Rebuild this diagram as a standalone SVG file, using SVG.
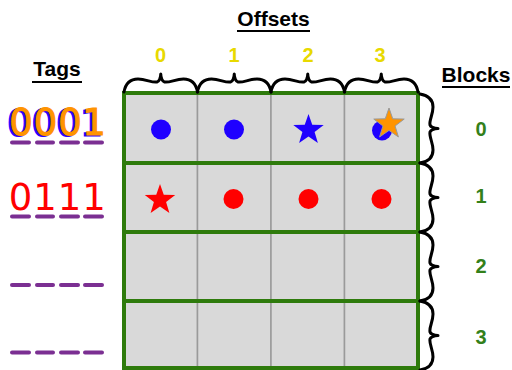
<svg xmlns="http://www.w3.org/2000/svg" width="512" height="370" viewBox="0 0 512 370">
<style>
.hd{font-family:"Liberation Sans",Arial,sans-serif;font-weight:bold;font-size:21px;fill:#000;text-anchor:middle}
.off{font-family:"Liberation Sans",Arial,sans-serif;font-weight:bold;font-size:20px;fill:#e8d900;text-anchor:middle}
.blk{font-family:"Liberation Sans",Arial,sans-serif;font-weight:bold;font-size:20px;fill:#33801a;text-anchor:middle}
.tag{font-family:"DejaVu Sans","Liberation Sans",sans-serif;font-size:37px;text-anchor:middle}
.ul{stroke:#000;stroke-width:2}
.dash{stroke:#7b2f92;stroke-width:4;stroke-linecap:round}
.cell{fill:#d9d9d9;stroke:#9a9a9a;stroke-width:1.5}
.row{fill:none;stroke:#2e7b0c;stroke-width:4}
.brace{fill:none;stroke:#000;stroke-width:3;stroke-linejoin:round;stroke-linecap:round}
</style>
<defs>
<path id="hb" class="brace" d="M0,19 C2,8 8,6 14,6 C22,6 28,10 33,9 C35,8.5 36.75,5 36.75,1 C36.75,5 38.5,8.5 40.5,9 C45.5,10 51.5,6 59.5,6 C65.5,6 71.5,8 73.5,19"/>
<path id="vb" class="brace" d="M0,0 C11,1.9 13,7.5 13,13.1 C13,20.7 9,26.3 10,31 C10.5,32.9 14,34.5 18,34.5 C14,34.5 10.5,36.1 10,38 C9,42.7 13,48.4 13,55.9 C13,61.5 11,67.1 0,69"/>
<polygon id="star5" points="0,-16 3.76,-5.18 15.22,-4.94 6.09,1.98 9.40,12.94 0,6.4 -9.40,12.94 -6.09,1.98 -15.22,-4.94 -3.76,-5.18"/>
</defs>

<g id="headers">
<text class="hd" x="273.5" y="26">Offsets</text>
<line class="ul" x1="237" y1="31" x2="310" y2="31"/>
<text class="hd" x="57" y="76">Tags</text>
<line class="ul" x1="32" y1="82" x2="82" y2="82"/>
<text class="hd" x="476" y="82">Blocks</text>
<line class="ul" x1="442" y1="87" x2="510" y2="87"/>
</g>

<g id="offset-labels">
<text class="off" x="160.5" y="62">0</text>
<text class="off" x="234" y="62">1</text>
<text class="off" x="308" y="62">2</text>
<text class="off" x="380" y="62">3</text>
</g>

<g id="block-labels">
<text class="blk" x="481" y="136">0</text>
<text class="blk" x="481" y="203">1</text>
<text class="blk" x="481" y="273">2</text>
<text class="blk" x="481" y="344">3</text>
</g>

<g id="cache-grid">
<g id="row0">
<rect class="cell" x="124" y="93" width="73.5" height="70"/>
<rect class="cell" x="197.5" y="93" width="73.5" height="70"/>
<rect class="cell" x="271" y="93" width="73.5" height="70"/>
<rect class="cell" x="344.5" y="93" width="73.5" height="70"/>
<rect class="row" x="124" y="93" width="294" height="70"/>
</g>
<g id="row1">
<rect class="cell" x="124" y="163" width="73.5" height="69"/>
<rect class="cell" x="197.5" y="163" width="73.5" height="69"/>
<rect class="cell" x="271" y="163" width="73.5" height="69"/>
<rect class="cell" x="344.5" y="163" width="73.5" height="69"/>
<rect class="row" x="124" y="163" width="294" height="69"/>
</g>
<g id="row2">
<rect class="cell" x="124" y="232" width="73.5" height="69"/>
<rect class="cell" x="197.5" y="232" width="73.5" height="69"/>
<rect class="cell" x="271" y="232" width="73.5" height="69"/>
<rect class="cell" x="344.5" y="232" width="73.5" height="69"/>
<rect class="row" x="124" y="232" width="294" height="69"/>
</g>
<g id="row3">
<rect class="cell" x="124" y="301" width="73.5" height="67"/>
<rect class="cell" x="197.5" y="301" width="73.5" height="67"/>
<rect class="cell" x="271" y="301" width="73.5" height="67"/>
<rect class="cell" x="344.5" y="301" width="73.5" height="67"/>
<rect class="row" x="124" y="301" width="294" height="67"/>
</g>
</g>

<g id="braces">
<use href="#hb" x="124" y="73"/>
<use href="#hb" x="197.5" y="73"/>
<use href="#hb" x="271" y="73"/>
<use href="#hb" x="344.5" y="73"/>
<use href="#vb" x="420" y="94"/>
<use href="#vb" x="420" y="163"/>
<use href="#vb" x="420" y="232"/>
<use href="#vb" x="420" y="301"/>
</g>

<g id="block0-data">
<circle cx="161" cy="129.5" r="10" fill="#1f00ff"/>
<circle cx="234" cy="129.5" r="10" fill="#1f00ff"/>
<use href="#star5" x="308.5" y="130" fill="#1f00ff"/>
<circle cx="382" cy="130.5" r="10" fill="#1f00ff"/>
<use href="#star5" x="389" y="124" fill="#ff9400" stroke="#999" stroke-width="1"/>
</g>

<g id="block1-data">
<use href="#star5" x="160" y="200" fill="#ff0000"/>
<circle cx="233.5" cy="199" r="10" fill="#ff0000"/>
<circle cx="308.5" cy="199" r="10" fill="#ff0000"/>
<circle cx="381.5" cy="199" r="10" fill="#ff0000"/>
</g>

<g id="tags">
<g id="tag0">
<text class="tag" x="18.5 43 67.5 91.5" y="136" fill="#2a00ff" stroke="#2a00ff" stroke-width="1.2">0001</text>
<text class="tag" x="21 45.5 70 94" y="134.5" fill="#ff9400" stroke="#ff9400" stroke-width="1.2">0001</text>
<line class="dash" x1="12" y1="142.5" x2="29" y2="142.5"/>
<line class="dash" x1="37" y1="142.5" x2="53" y2="142.5"/>
<line class="dash" x1="61" y1="142.5" x2="78" y2="142.5"/>
<line class="dash" x1="85" y1="142.5" x2="102" y2="142.5"/>
</g>
<g id="tag1">
<text class="tag" x="20.5 45 69.5 94" y="210" fill="#ff0000">0111</text>
<line class="dash" x1="12" y1="216.5" x2="29" y2="216.5"/>
<line class="dash" x1="37" y1="216.5" x2="53" y2="216.5"/>
<line class="dash" x1="61" y1="216.5" x2="78" y2="216.5"/>
<line class="dash" x1="85" y1="216.5" x2="102" y2="216.5"/>
</g>
<g id="tag2">
<line class="dash" x1="12" y1="285" x2="29" y2="285"/>
<line class="dash" x1="37" y1="285" x2="53" y2="285"/>
<line class="dash" x1="61" y1="285" x2="78" y2="285"/>
<line class="dash" x1="85" y1="285" x2="102" y2="285"/>
</g>
<g id="tag3">
<line class="dash" x1="12" y1="352.5" x2="29" y2="352.5"/>
<line class="dash" x1="37" y1="352.5" x2="53" y2="352.5"/>
<line class="dash" x1="61" y1="352.5" x2="78" y2="352.5"/>
<line class="dash" x1="85" y1="352.5" x2="102" y2="352.5"/>
</g>
</g>
</svg>
